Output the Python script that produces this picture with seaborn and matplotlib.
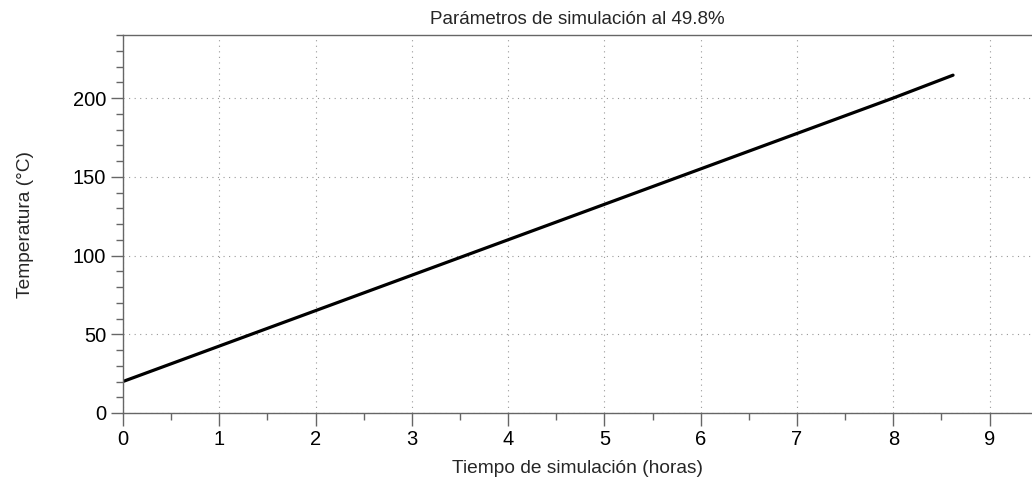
import matplotlib
matplotlib.use("Agg")
import matplotlib.pyplot as plt
from matplotlib.ticker import MultipleLocator
import seaborn as sns
import pandas as pd

# Data
horas = [0, 1, 2, 3, 4, 5, 6, 7, 8, 8.62]
temperatura = [20, 42.5, 65, 87.5, 110, 132.5, 155, 177.5, 200, 214.5]

title = "Parámetros de simulación al 49.8%"
xlabel = "Tiempo de simulación (horas)"
ylabel = "Temperatura (°C)"

sns.set_theme(style="white")
plt.rcParams['font.family'] = ['Liberation Sans', 'DejaVu Sans']

df = pd.DataFrame({"horas": horas, "temperatura": temperatura})

fig = plt.figure(figsize=(10.32, 4.83), dpi=100)
ax = fig.add_axes([123/1032, 70/483, 1 - 123/1032, (413-35)/483])

sns.lineplot(data=df, x="horas", y="temperatura", ax=ax, color="black", linewidth=2.3)

ax.set_xlim(0, 9.44)
ax.set_ylim(0, 240)
ax.xaxis.set_major_locator(MultipleLocator(1))
ax.xaxis.set_minor_locator(MultipleLocator(0.5))
ax.yaxis.set_major_locator(MultipleLocator(50))
ax.yaxis.set_minor_locator(MultipleLocator(10))

spine_c = "#666666"
for s in ["left", "bottom", "top"]:
    ax.spines[s].set_visible(True)
    ax.spines[s].set_color(spine_c)
    ax.spines[s].set_linewidth(1.0)
ax.spines["right"].set_visible(False)

ax.tick_params(axis="both", which="major", direction="out", length=9, width=1,
               color=spine_c, labelsize=14.5, labelcolor="black", pad=3,
               bottom=True, left=True, top=False, right=False)
ax.tick_params(axis="both", which="minor", direction="out", length=5, width=1,
               color=spine_c, bottom=True, left=True, top=False, right=False)

ax.grid(True, which="major", linestyle=(0, (1, 4)), color="#999999", linewidth=0.8)

ax.set_title(title, fontsize=13.5, pad=8)
ax.set_xlabel(xlabel, fontsize=13.8, labelpad=8)
ax.set_ylabel(ylabel, fontsize=13.8, labelpad=28)

fig.savefig("out.png", dpi=100)
